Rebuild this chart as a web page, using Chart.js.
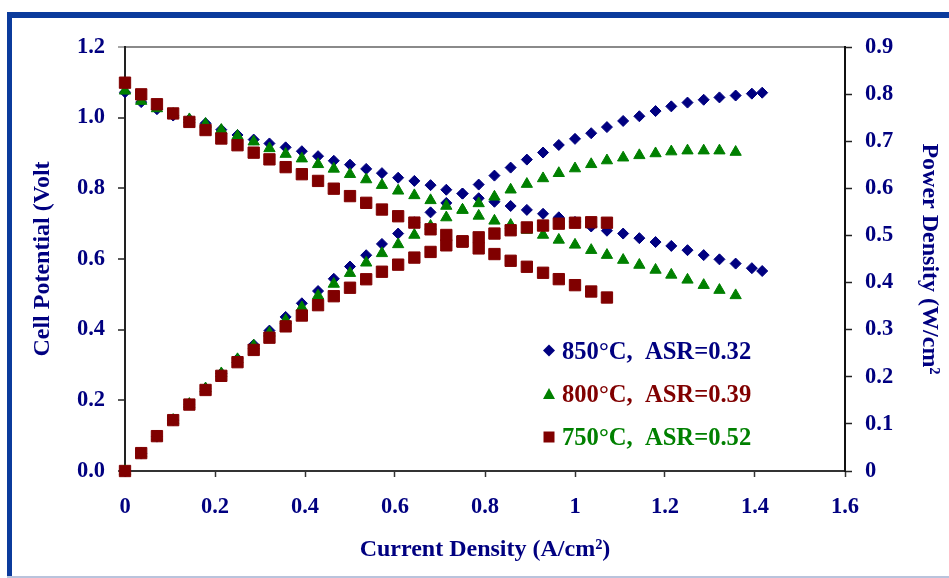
<!DOCTYPE html>
<html>
<head>
<meta charset="utf-8">
<script src="https://cdn.jsdelivr.net/npm/chart.js@4.4.1/dist/chart.umd.min.js"></script>
<style>
  html, body { margin: 0; padding: 0; background: #fff; }
  #cellChart { display: block; }
</style>
</head>
<body>
<canvas id="cellChart" width="949" height="578"></canvas>
<script>
// Current density (A/cm2) at each measuring point
const currentDensity = [0, 0.036, 0.071, 0.107, 0.143, 0.179, 0.214, 0.250, 0.286, 0.321,
    0.357, 0.393, 0.429, 0.464, 0.500, 0.536, 0.571, 0.607, 0.643, 0.679,
    0.714, 0.750, 0.786, 0.821, 0.857, 0.893, 0.929, 0.964, 1.000, 1.036,
    1.071, 1.107, 1.143, 1.179, 1.214, 1.250, 1.286, 1.321, 1.357, 1.393, 1.416];

// Cell potential (V)
const voltage850 = [1.072, 1.044, 1.024, 1.006, 0.995, 0.984, 0.966, 0.951, 0.938, 0.927,
    0.916, 0.905, 0.891, 0.878, 0.867, 0.855, 0.843, 0.830, 0.821, 0.809,
    0.796, 0.785, 0.772, 0.762, 0.750, 0.739, 0.728, 0.718, 0.705, 0.692,
    0.680, 0.672, 0.659, 0.648, 0.637, 0.625, 0.611, 0.599, 0.587, 0.574, 0.566];
const voltage800 = [1.076, 1.047, 1.026, 1.010, 0.995, 0.982, 0.965, 0.948, 0.932, 0.913,
    0.897, 0.884, 0.868, 0.855, 0.840, 0.825, 0.809, 0.793, 0.780, 0.766,
    0.750, 0.739, 0.722, 0.708, 0.696, 0.682, 0.668, 0.654, 0.640, 0.625,
    0.611, 0.597, 0.583, 0.569, 0.555, 0.541, 0.526, 0.512, 0.497];
const voltage750 = [1.099, 1.066, 1.038, 1.012, 0.988, 0.965, 0.941, 0.922, 0.901, 0.882,
    0.860, 0.840, 0.821, 0.799, 0.778, 0.759, 0.740, 0.721, 0.703, 0.684,
    0.668, 0.650, 0.630, 0.614, 0.595, 0.578, 0.561, 0.543, 0.526, 0.508, 0.491];

// Power density (W/cm2)
const power850 = [0, 0.037, 0.073, 0.108, 0.142, 0.176, 0.207, 0.238, 0.268, 0.298,
    0.327, 0.356, 0.382, 0.408, 0.434, 0.458, 0.482, 0.504, 0.528, 0.549,
    0.569, 0.589, 0.608, 0.627, 0.644, 0.661, 0.676, 0.692, 0.705, 0.717,
    0.730, 0.743, 0.753, 0.764, 0.774, 0.782, 0.788, 0.793, 0.797, 0.801, 0.803];
const power800 = [0, 0.037, 0.073, 0.108, 0.142, 0.175, 0.207, 0.237, 0.266, 0.293,
    0.320, 0.347, 0.372, 0.397, 0.420, 0.442, 0.462, 0.481, 0.501, 0.520,
    0.538, 0.554, 0.568, 0.582, 0.597, 0.609, 0.621, 0.632, 0.642, 0.651,
    0.659, 0.665, 0.670, 0.674, 0.678, 0.680, 0.680, 0.680, 0.677];
const power750 = [0, 0.038, 0.074, 0.108, 0.141, 0.172, 0.202, 0.231, 0.257, 0.283,
    0.307, 0.330, 0.352, 0.371, 0.389, 0.407, 0.423, 0.438, 0.453, 0.465,
    0.479, 0.487, 0.496, 0.504, 0.511, 0.517, 0.521, 0.525, 0.527, 0.528, 0.527];

const seriesLabels = ['850°C,  ASR=0.32', '800°C,  ASR=0.39', '750°C,  ASR=0.52'];

// Tick values
const xTickValues = [0, 0.2, 0.4, 0.6, 0.8, 1, 1.2, 1.4, 1.6];
const voltageTicks = [0, 0.2, 0.4, 0.6, 0.8, 1.0, 1.2];
const powerTicks = [0, 0.1, 0.2, 0.3, 0.4, 0.5, 0.6, 0.7, 0.8, 0.9];

document.addEventListener('DOMContentLoaded', function () {
    const NAVY = '#000080';
    const GREEN = '#008000';
    const MAROON = '#800000';
    const SERIF = '"Liberation Serif", "Times New Roman", serif';

    function toPoints(values) {
        return values.map((v, i) => ({ x: currentDensity[i], y: v }));
    }

    function serie(label, values, axis, style, radius, color, order) {
        return {
            label: label,
            data: toPoints(values),
            yAxisID: axis,
            pointStyle: style,
            pointRadius: radius,
            backgroundColor: color,
            borderColor: color,
            borderWidth: 1,
            showLine: false,
            clip: false,
            order: order
        };
    }

    // blue frame around the whole picture
    const framePlugin = {
        id: 'frame',
        beforeDraw(chart) {
            const ctx = chart.ctx;
            ctx.save();
            ctx.fillStyle = '#fff';
            ctx.fillRect(0, 0, chart.width, chart.height);
            ctx.fillStyle = '#0b3b9c';
            ctx.fillRect(7, 12, chart.width - 7, 6);
            ctx.fillRect(7, 12, 5, chart.height - 12);
            ctx.fillStyle = '#b9c3dc';
            ctx.fillRect(7, 576, chart.width - 7, 2);
            ctx.restore();
        }
    };

    // legend inside the plot (text colours differ from the markers, as in the original)
    const legendPlugin = {
        id: 'insideLegend',
        afterDraw(chart) {
            const ctx = chart.ctx;
            const markers = ['rectRot', 'triangle', 'rect'];
            const markerColors = [NAVY, GREEN, MAROON];
            const textColors = [NAVY, MAROON, GREEN];
            const baselines = [358.5, 402, 445];
            ctx.save();
            ctx.font = 'bold 24.6px ' + SERIF;
            ctx.textBaseline = 'alphabetic';
            seriesLabels.forEach((label, i) => {
                const cx = 549, cy = baselines[i] - 8;
                ctx.fillStyle = markerColors[i];
                ctx.beginPath();
                if (markers[i] === 'rectRot') {
                    ctx.moveTo(cx - 6, cy); ctx.lineTo(cx, cy - 6);
                    ctx.lineTo(cx + 6, cy); ctx.lineTo(cx, cy + 6);
                } else if (markers[i] === 'triangle') {
                    ctx.moveTo(cx, cy - 6); ctx.lineTo(cx + 6, cy + 5); ctx.lineTo(cx - 6, cy + 5);
                } else {
                    ctx.rect(cx - 5.5, cy - 5.5, 11, 11);
                }
                ctx.closePath();
                ctx.fill();
                ctx.fillStyle = textColors[i];
                ctx.fillText(label, 562, baselines[i]);
            });
            ctx.restore();
        }
    };

    const tickFont = { family: SERIF, size: 22.5, weight: 'bold' };
    const titleFont = { family: SERIF, size: 24, weight: 'bold' };

    new Chart(document.getElementById('cellChart'), {
        type: 'scatter',
        data: {
            datasets: [
                serie(seriesLabels[0], voltage850, 'y', 'rectRot', 5.5, NAVY, 3),
                serie(seriesLabels[0], power850, 'y1', 'rectRot', 5.5, NAVY, 3),
                serie(seriesLabels[1], voltage800, 'y', 'triangle', 6.5, GREEN, 2),
                serie(seriesLabels[1], power800, 'y1', 'triangle', 6.5, GREEN, 2),
                serie(seriesLabels[2], voltage750, 'y', 'rect', 8, MAROON, 1),
                serie(seriesLabels[2], power750, 'y1', 'rect', 8, MAROON, 1)
            ]
        },
        options: {
            responsive: false,
            animation: false,
            events: [],
            layout: { padding: { top: 47, left: 0, right: 0, bottom: 0 } },
            plugins: {
                legend: { display: false },
                tooltip: { enabled: false }
            },
            scales: {
                x: {
                    type: 'linear',
                    min: 0,
                    max: 1.6,
                    afterBuildTicks: s => { s.ticks = xTickValues.map(v => ({ value: v })); },
                    afterFit: s => { s.height = 107; },
                    grid: { drawOnChartArea: false, tickLength: 6, tickColor: '#333', tickWidth: 1.5 },
                    border: { color: '#333', width: 2 },
                    ticks: {
                        color: NAVY, font: tickFont, padding: 17, maxRotation: 0, autoSkip: false,
                        callback: v => String(Math.round(v * 10) / 10)
                    },
                    title: {
                        display: true, text: 'Current Density (A/cm²)', color: NAVY, font: titleFont,
                        padding: { top: 0, bottom: 14 }
                    }
                },
                y: {
                    position: 'left',
                    min: 0,
                    max: 1.2,
                    afterBuildTicks: s => { s.ticks = voltageTicks.map(v => ({ value: v })); },
                    afterFit: s => { s.width = 125; },
                    grid: {
                        color: c => (c.tick && c.tick.value === 1.2) ? '#8a8a8a' : 'rgba(0,0,0,0)',
                        lineWidth: 2,
                        tickLength: 7,
                        tickWidth: 1.5,
                        tickColor: c => (c.tick && c.tick.value === 1.2) ? '#8a8a8a' : '#222'
                    },
                    border: { color: '#222', width: 2 },
                    ticks: { color: NAVY, font: tickFont, padding: 13, callback: v => v.toFixed(1) },
                    title: {
                        display: true, text: 'Cell Potential (Volt', color: NAVY, font: titleFont,
                        padding: { top: 28, bottom: 0 }
                    }
                },
                y1: {
                    position: 'right',
                    min: 0,
                    max: 0.9,
                    afterBuildTicks: s => { s.ticks = powerTicks.map(v => ({ value: v })); },
                    afterFit: s => { s.width = 104; },
                    grid: { drawOnChartArea: false, tickLength: 7, tickWidth: 1.5, tickColor: '#222' },
                    border: { color: '#111', width: 2 },
                    ticks: { color: NAVY, font: tickFont, padding: 13, callback: v => String(Math.round(v * 10) / 10) },
                    title: {
                        display: true, text: 'Power Density (W/cm²', color: NAVY, font: titleFont,
                        padding: { top: 5, bottom: 0 }
                    }
                }
            }
        },
        plugins: [framePlugin, legendPlugin]
    });
});
</script>
</body>
</html>
